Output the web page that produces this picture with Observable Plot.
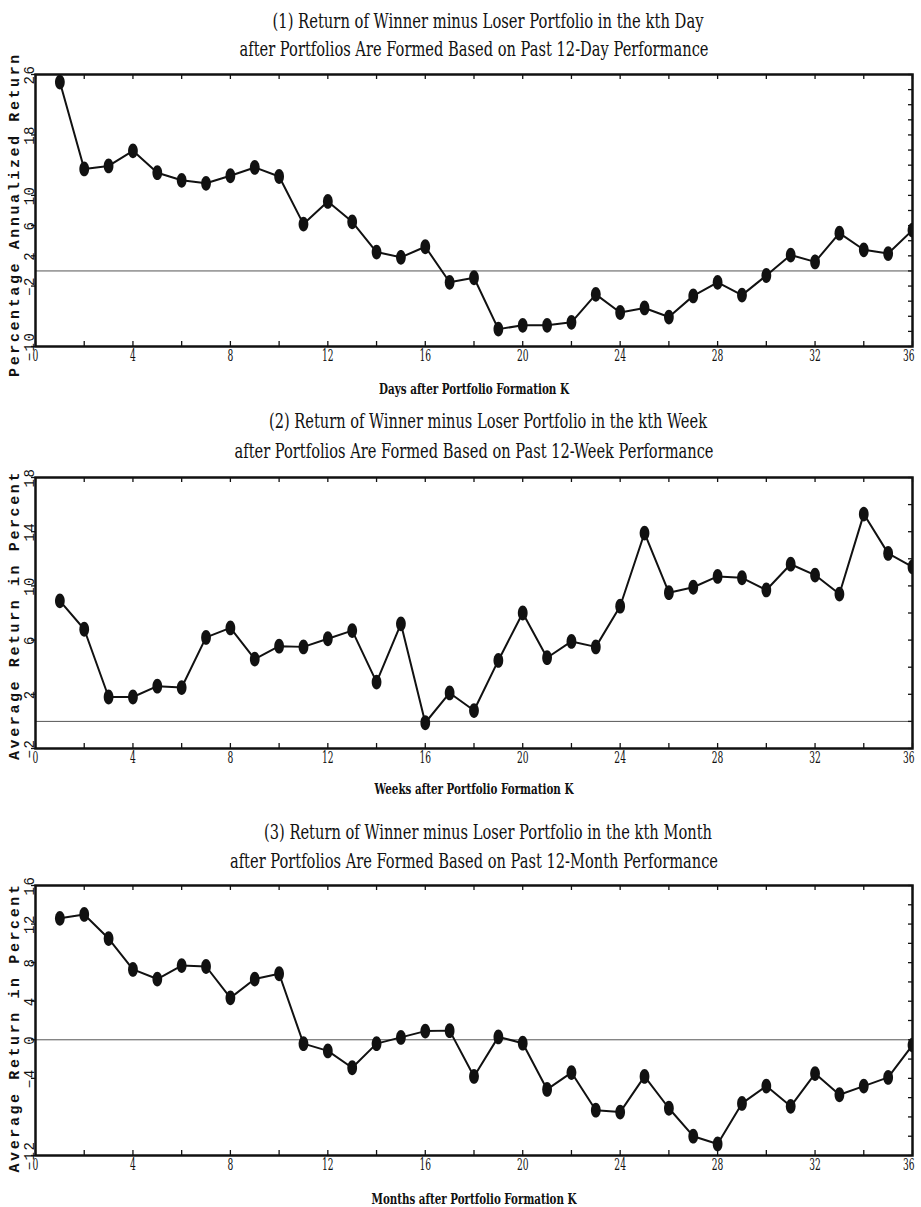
<!DOCTYPE html>
<html><head><meta charset="utf-8">
<script src="https://cdn.jsdelivr.net/npm/d3@7"></script>
<script src="https://cdn.jsdelivr.net/npm/@observablehq/plot@0.6"></script>
<style>
body{margin:0;background:#fff;}
#chart{width:921px;}
#chart svg{display:block;}
g[aria-description="ytick"] text{letter-spacing:1.5px;}
g[aria-description="ytitle"] text{letter-spacing:2.6px;}
</style></head><body><div id="chart"></div>
<script>
// ---- data ----
const horizons = [1,2,3,4,5,6,7,8,9,10,11,12,13,14,15,16,17,18,19,20,21,22,23,24,25,26,27,28,29,30,31,32,33,34,35,36];
const dailyReturns = [25.0,13.5,13.9,15.9,13.0,12.0,11.6,12.6,13.7,12.5,6.2,9.2,6.5,2.5,1.8,3.2,-1.5,-0.9,-7.7,-7.2,-7.2,-6.8,-3.1,-5.5,-4.9,-6.1,-3.3,-1.5,-3.2,-0.6,2.1,1.2,5.0,2.8,2.3,5.4];
const weeklyReturns = [8.9,6.8,1.8,1.8,2.6,2.5,6.2,6.9,4.6,5.55,5.5,6.1,6.7,2.9,7.2,-0.1,2.1,0.8,4.5,8.0,4.7,5.9,5.5,8.5,13.9,9.5,9.9,10.7,10.6,9.7,11.6,10.8,9.4,15.3,12.4,11.4];
const monthlyReturns = [12.6,13.0,10.5,7.3,6.3,7.7,7.6,4.35,6.3,6.85,-0.4,-1.15,-2.9,-0.4,0.25,0.9,0.95,-3.8,0.3,-0.35,-5.15,-3.4,-7.3,-7.5,-3.8,-7.1,-10.0,-10.8,-6.6,-4.8,-6.9,-3.5,-5.7,-4.8,-3.9,-0.55];

const xDomain = [0,36];
const xTickLabels = [0,4,8,12,16,20,24,28,32];
const xLastTickLabel = [36];
const yDomain1 = [-10,26];
const yTickLabels1 = [26,18,10,6,2,-2,-10];
const yDomain2 = [-2,18];
const yTickLabels2 = [18,14,10,6,2,-2];
const yDomain3 = [-12,16];
const yTickLabels3 = [16,12,8,4,0,-4,-12];

const titles1 = ["(1) Return of Winner minus Loser Portfolio in the kth Day","after Portfolios Are Formed Based on Past 12-Day Performance"];
const titles2 = ["(2) Return of Winner minus Loser Portfolio in the kth Week","after Portfolios Are Formed Based on Past 12-Week Performance"];
const titles3 = ["(3) Return of Winner minus Loser Portfolio in the kth Month","after Portfolios Are Formed Based on Past 12-Month Performance"];
const xTitles = ["Days after Portfolio Formation K","Weeks after Portfolio Formation K","Months after Portfolio Formation K"];
const yTitles = ["Percentage Annualized Return","Average Return in Percent","Average Return in Percent"];

// ---- layout ----
const W = 921, ML = 35, MR = 9;
const SERIF = "'DejaVu Serif', 'Liberation Serif', serif";
const MONO = "'Liberation Mono', 'DejaVu Sans Mono', monospace";
const ink = "#111";
const ellipse = {draw(ctx, size){
  const r = Math.sqrt(size/Math.PI), a = r*0.66, b = r, c = 0.5523;
  ctx.moveTo(a,0);
  ctx.bezierCurveTo(a,c*b,c*a,b,0,b);
  ctx.bezierCurveTo(-c*a,b,-a,c*b,-a,0);
  ctx.bezierCurveTo(-a,-c*b,-c*a,-b,0,-b);
  ctx.bezierCurveTo(c*a,-b,a,-c*b,a,0);
  ctx.closePath();
}};
const fmt = d => d < 0 ? "\u2212" + (-d) : String(d);

const panels = [
  {titles: titles1, xTitle: xTitles[0], yTitle: yTitles[0], values: dailyReturns, domain: yDomain1, labels: yTickLabels1,
   height: 400, mt: 74, mb: 54, titleDy: [-47,-19], titleW: [431,469], xTitleW: 190, xTitleDy: 47, yTitleDy: 4},
  {titles: titles2, xTitle: xTitles[1], yTitle: yTitles[1], values: weeklyReturns, domain: yDomain2, labels: yTickLabels2,
   height: 400, mt: 77, mb: 52, titleDy: [-50,-20], titleW: [438,479], xTitleW: 199, xTitleDy: 45, yTitleDy: 2},
  {titles: titles3, xTitle: xTitles[2], yTitle: yTitles[2], values: monthlyReturns, domain: yDomain3, labels: yTickLabels3,
   height: 407, mt: 85, mb: 52, titleDy: [-47,-18], titleW: [448,488], xTitleW: 205, xTitleDy: 48, yTitleDy: 7}
];

const chart = document.getElementById("chart");
const xMinor = d3.range(xDomain[0], xDomain[1] + 0.001, 2);

panels.forEach((p, pi) => {
  const data = horizons.map((h, i) => ({k: h, r: p.values[i]}));
  const fh = p.height - p.mt - p.mb;
  const fw = W - ML - MR;
  const yMinor = d3.range(p.domain[0], p.domain[1] + 0.001, 2);
  const xTickStyle = {text: d => fmt(d), frameAnchor: "bottom", lineAnchor: "bottom",
        fontFamily: SERIF, fontSize: 16, fill: ink, ariaDescription: "xtick"};
  const svg = Plot.plot({
    width: W, height: p.height,
    marginTop: p.mt, marginBottom: p.mb, marginLeft: ML, marginRight: MR,
    style: {background: "#fff", color: ink, overflow: "visible"},
    x: {domain: xDomain, axis: null},
    y: {domain: p.domain, axis: null},
    marks: [
      Plot.ruleY([0], {stroke: "#555", strokeWidth: 1}),
      Plot.tickX(xMinor, {x: d => d, insetTop: fh - 5, stroke: ink, strokeWidth: 1.3}),
      Plot.tickX(xMinor, {x: d => d, insetBottom: fh - 5, stroke: ink, strokeWidth: 1.3}),
      Plot.tickY(yMinor, {y: d => d, insetLeft: fw - 4, stroke: ink, strokeWidth: 1.3}),
      Plot.tickY(p.labels, {y: d => d, insetRight: fw - 4, dx: -4, stroke: ink, strokeWidth: 1.3}),
      Plot.line(data, {x: "k", y: "r", stroke: ink, strokeWidth: 2, clip: true}),
      Plot.dot(data, {x: "k", y: "r", r: 7.4, symbol: ellipse, fill: ink, stroke: "none", clip: true}),
      Plot.frame({stroke: ink, strokeWidth: 2.5}),
      // x tick labels
      Plot.text(xTickLabels, {x: d => d, dy: 14, ...xTickStyle}),
      Plot.text(xLastTickLabel, {x: d => d, dy: 14, dx: 2, textAnchor: "end", ...xTickStyle}),
      // y tick labels (rotated)
      Plot.text(p.labels, {y: d => d, text: d => fmt(d), frameAnchor: "left", lineAnchor: "bottom", dx: -2, rotate: -90,
        textAnchor: "middle", fontFamily: MONO, fontSize: 14, fill: ink, ariaDescription: "ytick"}),
      // y title
      Plot.text([p.yTitle], {text: d => d, frameAnchor: "left", lineAnchor: "bottom", dx: -17, dy: p.yTitleDy, rotate: -90,
        textAnchor: "middle", fontFamily: MONO, fontSize: 15, fontWeight: "bold", fill: ink, ariaDescription: "ytitle"}),
      // x title
      Plot.text([p.xTitle], {text: d => d, frameAnchor: "bottom", lineAnchor: "bottom", dy: p.xTitleDy,
        fontFamily: SERIF, fontSize: 15, fontWeight: "bold", fill: ink, ariaDescription: "xtitle"}),
      // titles
      Plot.text([p.titles[0]], {text: d => d, frameAnchor: "top", lineAnchor: "bottom", dx: 14, dy: p.titleDy[0],
        fontFamily: SERIF, fontSize: 21, fill: ink, ariaDescription: "title0"}),
      Plot.text([p.titles[1]], {text: d => d, frameAnchor: "top", lineAnchor: "bottom", dx: 0, dy: p.titleDy[1],
        fontFamily: SERIF, fontSize: 21, fill: ink, ariaDescription: "title1"})
    ]
  });
  chart.appendChild(svg);
  const fit = (sel, target) => svg.querySelectorAll(`g[aria-description="${sel}"] text`).forEach(t => {
    const L = t.getComputedTextLength();
    const w = typeof target === "function" ? target(L) : target;
    t.setAttribute("textLength", w.toFixed(2));
    t.setAttribute("lengthAdjust", "spacingAndGlyphs");
  });
  fit("xtick", L => L * 0.57);
  fit("xtitle", p.xTitleW);
  fit("title0", p.titleW[0]);
  fit("title1", p.titleW[1]);
});
</script></body></html>
